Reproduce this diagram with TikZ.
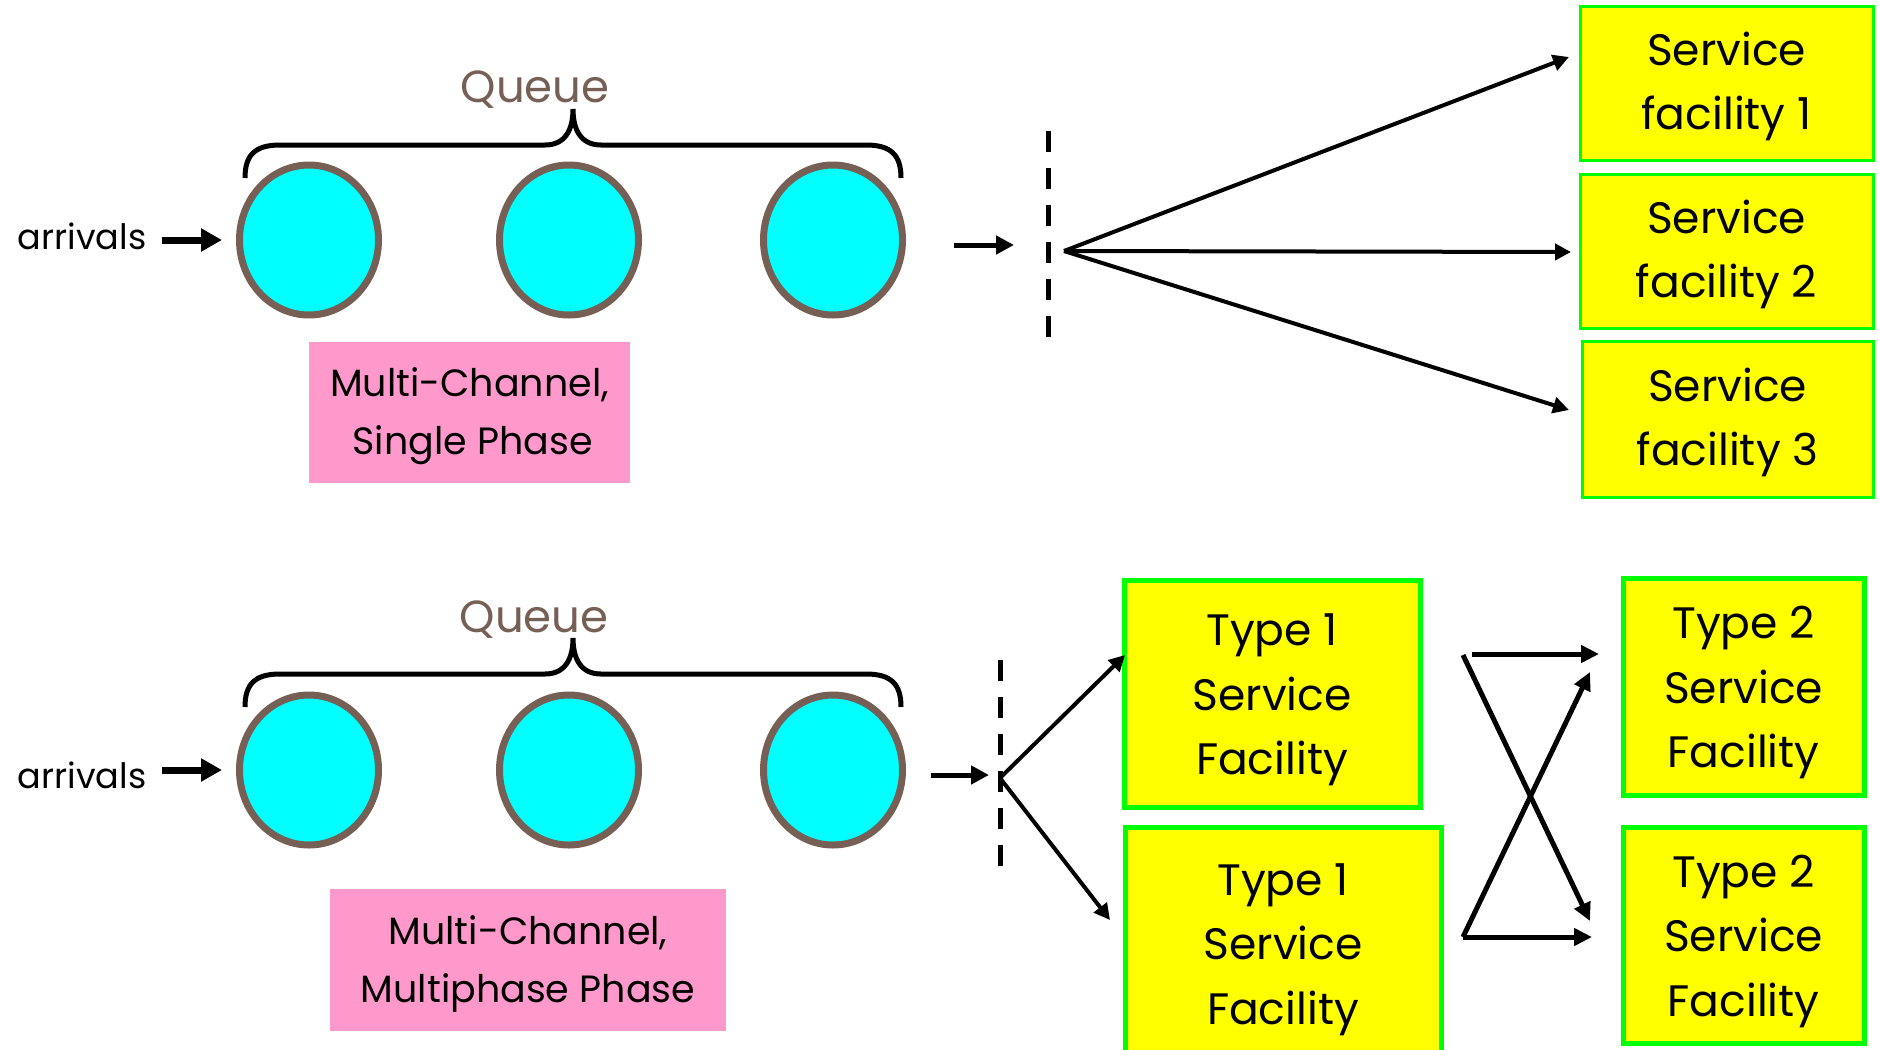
\documentclass[tikz,border=0pt]{standalone}
\usepackage{fontspec}
\setmainfont{Poppins}
\usetikzlibrary{arrows.meta,shapes.geometric}
\definecolor{qbrown}{RGB}{118,96,86}
\definecolor{qcyan}{RGB}{0,255,255}
\definecolor{qpink}{RGB}{255,153,204}
\definecolor{qyellow}{RGB}{255,255,0}
\definecolor{qgreen}{RGB}{0,255,0}
\newcommand{\qlift}[1]{\rule{0pt}{#1}}
\begin{document}
\begin{tikzpicture}[x=0.5pt,y=-0.5pt,
  qcirc/.style={ellipse, draw=qbrown, fill=qcyan, line width=3.5pt, minimum width=69.5pt, minimum height=75pt, inner sep=0pt},
  qlabel/.style={text=qbrown, font=\fontsize{22.5}{27}\selectfont, inner sep=0pt, anchor=base},
  arrtext/.style={font=\fontsize{17.5}{21}\selectfont, inner sep=0pt},
  pinkbox/.style={fill=qpink, align=center, font=\fontsize{19}{29}\selectfont, inner sep=0pt},
  sbox/.style={draw=qgreen, fill=qyellow, align=center, font=\fontsize{22}{32.3}\selectfont, inner sep=0pt},
  bigarrow/.style={line width=3.5pt, -{Triangle[length=10.5pt,width=11pt]}},
  midarrow/.style={line width=2.5pt, -{Triangle[length=9pt,width=9pt]}},
  fanarrow/.style={line width=2pt, -{Triangle[length=8pt,width=8pt]}},
  crossarrow/.style={line width=2.5pt, -{Triangle[length=9pt,width=8.5pt]}},
  dashline/.style={line width=2.5pt, dash pattern=on 10.5pt off 8pt},
  bracepath/.style={line width=2.5pt}
]
\fill[white] (0,0) rectangle (1878,1049);
\useasboundingbox (0,0) rectangle (1878,1049);
\clip (0,0) rectangle (1878,1049);

% ---------------- top: multi-channel, single phase
\node[arrtext] (arr1) at (82,236) {arrivals};
\node[qcirc] (e1) at (309,240) {};
\node[qcirc] (e2) at (569,240) {};
\node[qcirc] (e3) at (833,240) {};
\draw[bigarrow, shorten <=7.5pt, shorten >=7pt] (arr1.east |- e1.west) -- (e1.west);
\node[qlabel] (q1) at (535,102) {Queue};
\draw[bracepath] (245,178) .. controls (245,155) and (255,145) .. (280,145) -- (545,145)
  .. controls (565,145) and (573,130) .. (573,109)
  .. controls (573,130) and (581,145) .. (601,145) -- (866,145)
  .. controls (891,145) and (901,155) .. (901,178);
\node[pinkbox, minimum width=160.5pt, minimum height=70.5pt] (p1) at (469.5,412.5) {\qlift{18.5pt}Multi-Channel,\\ \,Single Phase};

\coordinate (s1a) at (954,245);
\coordinate (s1b) at (1014,245);
\draw[midarrow] (s1a) -- (s1b);
\coordinate (d1t) at (1048,131);
\coordinate (d1b) at (1048,338);
\draw[dashline] (d1t) -- (d1b);
\coordinate (f1) at (1064,251);
\node[sbox, line width=1.5pt, minimum width=146.5pt, minimum height=77pt] (sf1) at (1726.5,83) {\qlift{20pt}Service\\ facility 1};
\node[sbox, line width=1.5pt, minimum width=146.5pt, minimum height=77pt] (sf2) at (1726.5,251) {\qlift{20pt}Service\\ facility 2};
\node[sbox, line width=1.5pt, minimum width=145.5pt, minimum height=78pt] (sf3) at (1727.5,419) {\qlift{20pt}Service\\ facility 3};
\coordinate (g1) at (1569,57);
\coordinate (g2) at (1571,252);
\coordinate (g3) at (1569,410);
\draw[fanarrow] (f1) -- (g1);
\draw[fanarrow] (f1) -- (g2);
\draw[fanarrow] (f1) -- (g3);

% ---------------- bottom: multi-channel, multiphase
\node[arrtext] (arr2) at (82,775) {arrivals};
\node[qcirc] (e4) at (309,770) {};
\node[qcirc] (e5) at (569,770) {};
\node[qcirc] (e6) at (833,770) {};
\draw[bigarrow, shorten <=7.5pt, shorten >=7pt] (arr2.east |- e4.west) -- (e4.west);
\node[qlabel] (q2) at (534,632) {Queue};
\begin{scope}[shift={(0,529)}]
\draw[bracepath] (245,178) .. controls (245,155) and (255,145) .. (280,145) -- (545,145)
  .. controls (565,145) and (573,130) .. (573,109)
  .. controls (573,130) and (581,145) .. (601,145) -- (866,145)
  .. controls (891,145) and (901,155) .. (901,178);
\end{scope}
\node[pinkbox, minimum width=198pt, minimum height=71pt] (p2) at (528,960) {\qlift{18pt}Multi-Channel,\\ Multiphase Phase};

\coordinate (s2a) at (931,775);
\coordinate (s2b) at (989,775);
\draw[midarrow] (s2a) -- (s2b);
\coordinate (d2t) at (1000,660);
\coordinate (d2b) at (1000,868);
\draw[dashline] (d2t) -- (d2b);
\coordinate (f2) at (1000,778);

\node[sbox, line width=2.5pt, minimum width=148pt, minimum height=113.5pt] (t1a) at (1272,693.5) {\qlift{22.5pt}Type 1\\ Service\\ Facility};
\node[sbox, line width=2.5pt, minimum width=158pt, minimum height=116pt] (t1b) at (1283,943) {\qlift{22.5pt}Type 1\\ Service\\ Facility};
\node[sbox, line width=2.5pt, minimum width=120.5pt, minimum height=108.5pt] (t2a) at (1743.5,686.5) {\qlift{22.5pt}Type 2\\ Service\\ Facility};
\node[sbox, line width=2.5pt, minimum width=120.5pt, minimum height=108pt] (t2b) at (1743.5,935) {\qlift{22.5pt}Type 2\\ Service\\ Facility};

\coordinate (h1) at (1125,655);
\coordinate (h2) at (1110,920);
\draw[fanarrow] (f2) -- (h1);
\draw[fanarrow] (f2) -- (h2);

\coordinate (c1s) at (1472,654);
\coordinate (c1e) at (1599,654);
\coordinate (c2s) at (1463,655);
\coordinate (c2e) at (1590,921);
\coordinate (c3s) at (1463,937);
\coordinate (c3e) at (1590,672);
\coordinate (c4e) at (1592,937);
\draw[crossarrow] (c1s) -- (c1e);
\draw[crossarrow] (c2s) -- (c2e);
\draw[crossarrow] (c3s) -- (c3e);
\draw[crossarrow] (c3s) -- (c4e);
\end{tikzpicture}
\end{document}
